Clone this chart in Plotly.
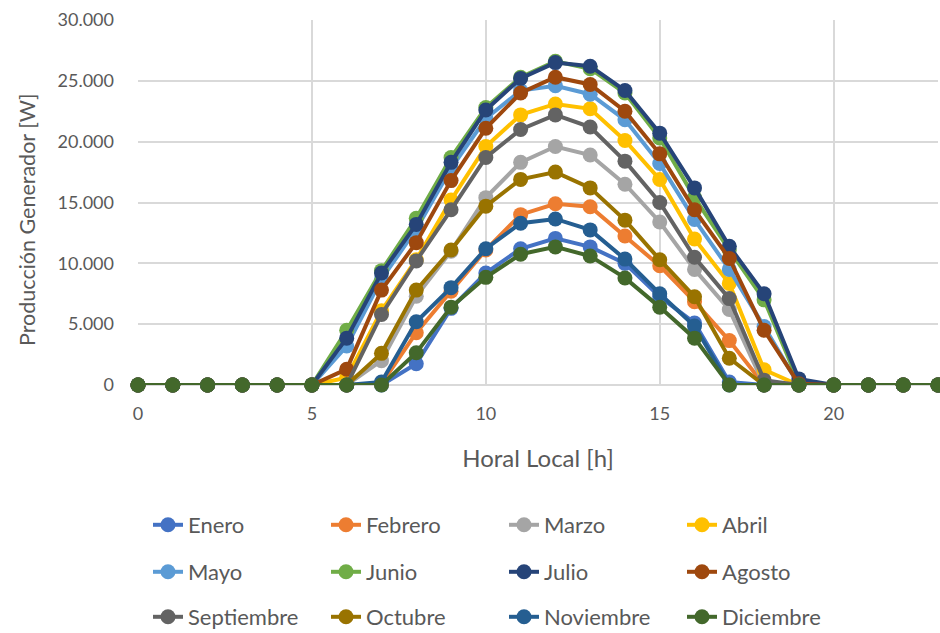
import plotly.graph_objects as go

horas = list(range(24))
meses = ["Enero", "Febrero", "Marzo", "Abril", "Mayo", "Junio", "Julio", "Agosto",
         "Septiembre", "Octubre", "Noviembre", "Diciembre"]

Z = [0, 0, 0, 0, 0, 0]
enero      = Z + [0, 0, 1750, 6300, 9200, 11200, 12050, 11350, 10000, 7250, 5100, 250, 0, 0, 0, 0, 0, 0]
febrero    = Z + [0, 100, 4300, 7700, 11100, 14000, 14900, 14650, 12250, 9800, 6850, 3650, 0, 0, 0, 0, 0, 0]
marzo      = Z + [0, 2000, 7300, 11000, 15400, 18300, 19600, 18900, 16500, 13400, 9500, 6200, 0, 0, 0, 0, 0, 0]
abril      = Z + [600, 6100, 10300, 15200, 19600, 22200, 23100, 22700, 20100, 16900, 12000, 8350, 1250, 0, 0, 0, 0, 0]
mayo       = Z + [3200, 8700, 12800, 17800, 21900, 24200, 24600, 23900, 21800, 18200, 13600, 9500, 4800, 0, 0, 0, 0, 0]
junio      = Z + [4500, 9400, 13700, 18700, 22800, 25300, 26600, 26000, 24000, 20300, 15400, 11100, 7000, 200, 0, 0, 0, 0]
julio      = Z + [3850, 9200, 13200, 18300, 22600, 25200, 26500, 26200, 24200, 20700, 16200, 11400, 7500, 500, 0, 0, 0, 0]
agosto     = Z + [1300, 7800, 11700, 16800, 21100, 24000, 25300, 24700, 22500, 19000, 14400, 10400, 4500, 100, 0, 0, 0, 0]
septiembre = Z + [0, 5800, 10200, 14400, 18700, 21000, 22200, 21200, 18400, 15000, 10500, 7100, 400, 0, 0, 0, 0, 0]
octubre    = Z + [0, 2600, 7800, 11100, 14700, 16900, 17500, 16200, 13550, 10300, 7250, 2200, 0, 0, 0, 0, 0, 0]
noviembre  = Z + [0, 250, 5200, 8000, 11200, 13300, 13650, 12750, 10350, 7500, 4850, 0, 0, 0, 0, 0, 0, 0]
diciembre  = Z + [0, 0, 2650, 6400, 8850, 10750, 11350, 10600, 8800, 6400, 3850, 0, 0, 0, 0, 0, 0, 0]

series = [enero, febrero, marzo, abril, mayo, junio, julio, agosto,
          septiembre, octubre, noviembre, diciembre]
colores = ["#4472C4", "#ED7D31", "#A5A5A5", "#FFC000", "#5B9BD5", "#70AD47",
           "#264478", "#9E480E", "#636363", "#997300", "#255E91", "#43682B"]

FONT = "Lato"
GRAY = "#595959"

fig = go.Figure()
legend_names = ["legend", "legend2", "legend3"]
for i, (m, vals, c) in enumerate(zip(meses, series, colores)):
    fig.add_trace(go.Scatter(
        x=horas, y=vals, name=m, mode="lines+markers",
        line=dict(color=c, width=4),
        marker=dict(color=c, size=15),
        cliponaxis=False,
        legend=legend_names[i // 4],
    ))

row_y = [1 - 525 / 633, 1 - 572 / 633, 1 - 617 / 633]
leg_common = dict(orientation="h", xref="paper", yref="container",
                  x=0.0125, xanchor="left", yanchor="middle",
                  entrywidth=133, entrywidthmode="pixels",
                  font=dict(family=FONT, size=22, color=GRAY),
                  bgcolor="rgba(0,0,0,0)", itemwidth=30)

fig.update_layout(
    width=940, height=633,
    margin=dict(l=138, r=2, t=20, b=248),
    paper_bgcolor="white", plot_bgcolor="white",
    separators=",.",
    font=dict(family=FONT, color=GRAY),
    legend=dict(y=row_y[0], **leg_common),
    legend2=dict(y=row_y[1], **leg_common),
    legend3=dict(y=row_y[2], **leg_common),
    xaxis=dict(
        range=[0, 23], tickvals=[0, 5, 10, 15, 20],
        showgrid=True, gridcolor="#D9D9D9", gridwidth=1.5,
        zeroline=False, showline=False,
        tickfont=dict(family=FONT, size=18, color=GRAY),
        ticks="", ticklabelstandoff=16,
        title=dict(text="Horal Local [h]", font=dict(family=FONT, size=24, color=GRAY), standoff=27),
    ),
    yaxis=dict(
        range=[0, 30000], tickvals=[0, 5000, 10000, 15000, 20000, 25000, 30000],
        tickformat=",d",
        showgrid=True, gridcolor="#D9D9D9", gridwidth=1.5,
        zeroline=True, zerolinecolor="#D9D9D9", zerolinewidth=1.5, showline=False,
        tickfont=dict(family=FONT, size=18, color=GRAY),
        ticks="", ticklabelstandoff=23,
    ),
    annotations=[dict(
        text="Producción Generador [W]", textangle=-90,
        xref="paper", yref="paper", x=(27 - 138) / 800, y=(385 - 219) / 365,
        xanchor="center", yanchor="middle", showarrow=False,
        font=dict(family=FONT, size=21.5, color=GRAY),
    )],
)

fig.write_html("out.html", config={"displayModeBar": False},
               post_script="document.body.style.margin='0';document.body.style.overflow='hidden';")
